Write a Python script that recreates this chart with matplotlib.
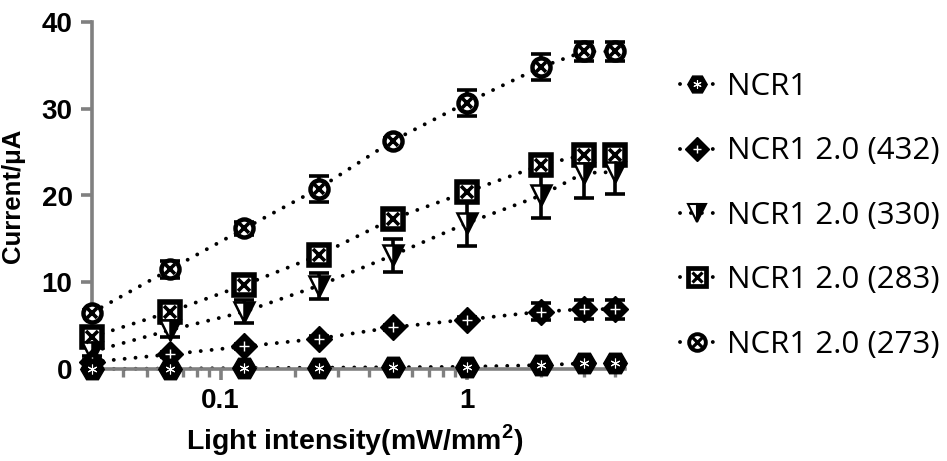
import matplotlib
matplotlib.use("Agg")
import matplotlib.pyplot as plt
from matplotlib.lines import Line2D
import numpy as np

# ---- data ----
intensity = [0.03, 0.0625, 0.125, 0.25, 0.5, 1, 2, 3, 4]
labels = ["NCR1", "NCR1 2.0 (432)", "NCR1 2.0 (330)", "NCR1 2.0 (283)", "NCR1 2.0 (273)"]
ncr1 = [0.0, 0.05, 0.1, 0.15, 0.2, 0.25, 0.45, 0.65, 0.65]
ncr1_err = [0.05, 0.05, 0.05, 0.05, 0.1, 0.1, 0.15, 0.2, 0.2]
v432 = [0.8, 1.7, 2.6, 3.5, 4.8, 5.7, 6.6, 6.9, 6.9]
v432_err = [0.2, 0.3, 0.3, 0.3, 0.3, 0.3, 1.0, 1.1, 1.1]
v330 = [2.0, 4.5, 6.6, 9.6, 13.1, 16.8, 20.0, 22.6, 22.7]
v330_err = [0.5, 0.8, 1.3, 1.5, 1.9, 2.6, 2.6, 2.9, 2.5]
v283 = [3.7, 6.6, 9.7, 13.1, 17.3, 20.4, 23.5, 24.7, 24.7]
v283_err = [0.5, 0.6, 0.6, 0.6, 0.6, 0.6, 0.6, 0.8, 0.8]
v273 = [6.5, 11.5, 16.2, 20.8, 26.3, 30.7, 34.8, 36.6, 36.6]
v273_err = [0.3, 1.0, 0.8, 1.5, 0.3, 1.5, 1.5, 1.1, 1.1]

grey = "#808080"
plt.rcParams["font.family"] = ["Liberation Sans", "DejaVu Sans"]
plt.rcParams["mathtext.fontset"] = "custom"
plt.rcParams["mathtext.rm"] = "Liberation Sans"
plt.rcParams["mathtext.bf"] = "Liberation Sans:bold"

fig = plt.figure(figsize=(9.47, 4.61), dpi=100)
ax = fig.add_axes([92/947, 1-369/461, (625-92)/947, (369-22)/461])
ax.set_xscale("log")
ax.set_xlim(0.03, 4.4)
ax.set_ylim(0, 40)

ls = (0, (0.01, 2.8))
lw = 2.8
line_kw = dict(linestyle=ls, color="black", lw=lw, dash_capstyle="round")
eb_kw = dict(ecolor="black", elinewidth=2.6, capsize=7, capthick=2.6, zorder=3, clip_on=False)

def series(y, err):
    ax.errorbar(intensity, y, yerr=err, fmt="none", **eb_kw)
    ax.plot(intensity, y, zorder=2, clip_on=False, **line_kw)

# 273: circle with x
series(v273, v273_err)
ax.plot(intensity, v273, "o", ms=13, mfc="white", mec="black", mew=3.2, zorder=4, clip_on=False)
ax.plot(intensity, v273, "x", ms=7, mec="black", mew=2.6, zorder=4.1, clip_on=False)

# 283: square with x
series(v283, v283_err)
ax.plot(intensity, v283, "s", ms=15, mfc="white", mec="black", mew=4.0, zorder=4, clip_on=False)
ax.plot(intensity, v283, "x", ms=9, mec="black", mew=2.6, zorder=4.1, clip_on=False)

# 330: half filled down triangle
series(v330, v330_err)
ax.plot(intensity, v330, "v", ms=15, mfc="black", mfcalt="white", fillstyle="right",
        mec="black", mew=1.8, zorder=4, clip_on=False)

# 432: diamond with +
series(v432, v432_err)
ax.plot(intensity, v432, "D", ms=13, mfc="black", mec="black", mew=1, zorder=4, clip_on=False)
ax.plot(intensity, v432, "+", ms=7, mec="white", mew=1.0, zorder=4.1, clip_on=False)

# NCR1: hexagon
series(ncr1, ncr1_err)
ax.plot(intensity, ncr1, "H", ms=17, mfc="black", mec="black", mew=1, zorder=5, clip_on=False)
ax.plot(intensity, ncr1, marker=(6, 2, 0), linestyle="none", ms=7, mec="white", mew=0.8, zorder=5.1, clip_on=False)

# axes styling
for s in ["top", "right"]:
    ax.spines[s].set_visible(False)
for s in ["left", "bottom"]:
    ax.spines[s].set_color(grey)
    ax.spines[s].set_linewidth(2.6)
ax.set_yticks([0, 10, 20, 30, 40])
ax.set_xticks([0.1, 1])
ax.set_xticklabels(["0.1", "1"])
ax.tick_params(axis="both", which="major", color=grey, width=2.6, length=8,
               labelsize=20, pad=6)
ax.tick_params(axis="x", which="minor", color=grey, width=2.4, length=6)
ax.xaxis.set_minor_formatter(matplotlib.ticker.NullFormatter())
for t in ax.get_xticklabels() + ax.get_yticklabels():
    t.set_fontweight("bold")
ax.set_ylabel("Current/μA", fontsize=18.5, fontweight="bold", labelpad=12)
fig.text(355/947, 1-440/461, "Light intensity(mW/mm$^{\\mathbf{2}}$)", fontsize=20.5,
         fontweight="bold", ha="center", va="center")

# legend
h_ncr1 = (Line2D([], [], marker="H", ms=14, mfc="black", mec="black", **line_kw),
          Line2D([], [], linestyle="none", marker=(6, 2, 0), ms=6, mec="white", mew=0.8))
h_432 = (Line2D([], [], marker="D", ms=12, mfc="black", mec="black", **line_kw),
         Line2D([], [], linestyle="none", marker="+", ms=6, mec="white", mew=1))
h_330 = (Line2D([], [], marker="v", ms=13, mfc="black",
                mfcalt="white", fillstyle="right", mec="black", mew=1.5, **line_kw),)
h_283 = (Line2D([], [], marker="s", ms=13, mfc="white", mec="black", mew=3.4, **line_kw),
         Line2D([], [], linestyle="none", marker="x", ms=7.5, mec="black", mew=2.3))
h_273 = (Line2D([], [], marker="o", ms=12, mfc="white", mec="black", mew=2.8, **line_kw),
         Line2D([], [], linestyle="none", marker="x", ms=6.5, mec="black", mew=2.3))
leg = fig.legend([h_ncr1, h_432, h_330, h_283, h_273], labels,
                 loc="upper left", bbox_to_anchor=(652/947, 1-44/461),
                 frameon=False, handlelength=1.1, handletextpad=0.4,
                 labelspacing=1.1, prop={"family": "Open Sans", "size": 22.5})

fig.savefig("out.png", dpi=100)
